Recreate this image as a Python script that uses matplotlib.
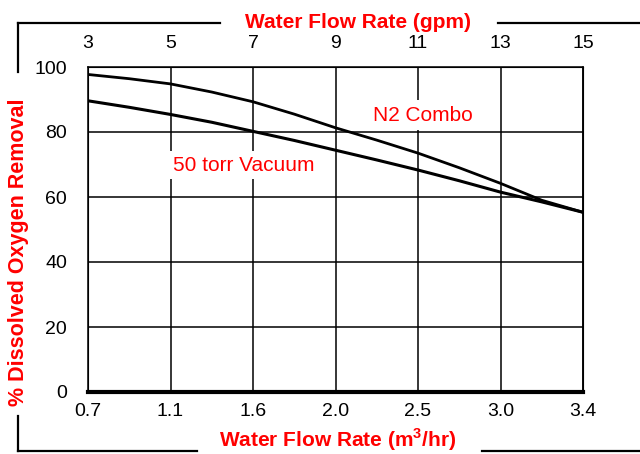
import numpy as np
import matplotlib.pyplot as plt
from matplotlib.lines import Line2D

plt.rcParams['font.family'] = ['Liberation Sans', 'DejaVu Sans']
plt.rcParams['mathtext.fontset'] = 'custom'
plt.rcParams['mathtext.rm'] = 'Liberation Sans'
plt.rcParams['mathtext.bf'] = 'Liberation Sans:bold'

red = '#ff0000'

# flow rate in gpm (top axis) and m3/hr labels (bottom axis)
gpm = [3, 4, 5, 6, 7, 8, 9, 10, 11, 12, 13, 14, 15]
gpm_ticks = [3, 5, 7, 9, 11, 13, 15]
m3hr_labels = ['0.7', '1.1', '1.6', '2.0', '2.5', '3.0', '3.4']
yticks = [0, 20, 40, 60, 80, 100]

n2_combo = [97.7, 96.4, 94.8, 92.3, 89.3, 85.5, 81.3, 77.5, 73.5, 69.0, 64.2, 59.0, 55.3]
vacuum_50 = [89.6, 87.6, 85.4, 83.0, 80.2, 77.4, 74.4, 71.4, 68.3, 65.0, 61.5, 58.5, 55.3]

fig = plt.figure(figsize=(6.4, 4.54), dpi=100)
ax = fig.add_axes([88/640, 1-392/454, (583-88)/640, (392-67)/454])

ax.plot(gpm, n2_combo, color='black', lw=2.0, zorder=3)
ax.plot(gpm, vacuum_50, color='black', lw=2.2, zorder=3)

ax.set_xlim(3, 15)
ax.set_ylim(0, 100)
ax.set_xticks(gpm_ticks)
ax.set_xticklabels(m3hr_labels)
ax.set_yticks(yticks)
ax.grid(True, color='black', lw=1.1)
ax.tick_params(axis='both', length=0, labelsize=14)
ax.tick_params(axis='x', pad=8)
ax.tick_params(axis='y', pad=15)
for s in ['top', 'right', 'left']:
    ax.spines[s].set_linewidth(1.1)
ax.spines['bottom'].set_linewidth(3)

top = ax.twiny()
top.set_xlim(3, 15)
top.set_xticks(gpm_ticks)
top.set_xticklabels([str(v) for v in gpm_ticks])
top.tick_params(axis='x', length=0, labelsize=14, pad=11)

ax.text(9.92, 85.2, 'N2 Combo', color=red, fontsize=15, ha='left', va='center',
        zorder=4, bbox=dict(facecolor='white', edgecolor='none', pad=4))
ax.text(5.06, 69.8, '50 torr Vacuum', color=red, fontsize=15, ha='left', va='center',
        zorder=4, bbox=dict(facecolor='white', edgecolor='none', pad=3))

fig.text(358/640, 1-23/454, 'Water Flow Rate (gpm)', color=red, fontsize=15,
         fontweight='bold', ha='center', va='center')
fig.text(338/640, 1-440/454, r'Water Flow Rate (m$^\mathbf{3}$/hr)', color=red,
         fontsize=15, fontweight='bold', ha='center', va='center')
fig.text(19/640, 1-252/454, '% Dissolved Oxygen Removal', color=red, fontsize=15.5,
         fontweight='bold', ha='center', va='center', rotation=90)

# decorative frame lines
def px_line(xs, ys):
    fig.add_artist(Line2D([x/640 for x in xs], [1-y/454 for y in ys],
                          color='black', lw=1.6, transform=fig.transFigure))

px_line([18, 220], [23, 23])
px_line([498, 640], [23, 23])
px_line([18, 18], [23, 72])
px_line([18, 18], [416, 451])
px_line([18, 197], [451, 451])
px_line([482, 640], [451, 451])

fig.savefig('out.png', dpi=100)
